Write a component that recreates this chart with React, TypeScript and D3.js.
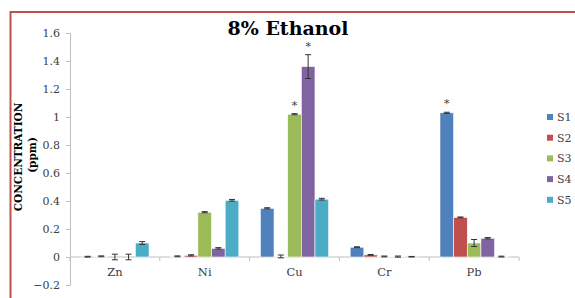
import { useEffect, useRef } from "react";
import * as d3 from "d3";

const metals = ["Zn", "Ni", "Cu", "Cr", "Pb"];
const series = ["S1", "S2", "S3", "S4", "S5"];
const colors = ["#4f81bd", "#c0504d", "#9bbb59", "#8064a2", "#4bacc6"];

// values per series, in metal order
const s1 = [0.002, 0.005, 0.348, 0.07, 1.03];
const s2 = [0.005, 0.012, 0.004, 0.015, 0.283];
const s3 = [0.0, 0.32, 1.02, 0.004, 0.1];
const s4 = [0.0, 0.062, 1.36, 0.003, 0.134];
const s5 = [0.1, 0.405, 0.413, 0.002, 0.003];

// error bars (+/-)
const e1 = [0.003, 0.003, 0.004, 0.003, 0.004];
const e2 = [0.003, 0.004, 0.01, 0.003, 0.003];
const e3 = [0.02, 0.004, 0.004, 0.003, 0.025];
const e4 = [0.02, 0.005, 0.085, 0.004, 0.005];
const e5 = [0.01, 0.006, 0.006, 0.002, 0.003];

const yTicks = [-0.2, 0, 0.2, 0.4, 0.6, 0.8, 1, 1.2, 1.4, 1.6];
// significance markers: [metal, series]
const stars: [string, string][] = [
  ["Cu", "S3"],
  ["Cu", "S4"],
  ["Pb", "S1"],
];

const W = 575;
const H = 298;
const margins = { top: 33, right: 56, bottom: 13, left: 70 };
const FONT = "DejaVu Serif";

export default function App() {
  const axesRef = useRef(null);

  const values = [s1, s2, s3, s4, s5];
  const errors = [e1, e2, e3, e4, e5];

  const yScale = d3
    .scaleLinear()
    .domain([-0.2, 1.6])
    .range([H - margins.bottom, margins.top]);

  const xScale = d3
    .scaleBand()
    .domain(metals)
    .range([margins.left, W - margins.right])
    .paddingInner(0.24)
    .paddingOuter(0.12);

  const inner = d3
    .scaleBand()
    .domain(series)
    .range([0, xScale.bandwidth()]);

  useEffect(() => {
    const g = d3.select(axesRef.current);
    g.selectAll("*").remove();

    const yAxis = g
      .append("g")
      .attr("transform", `translate(${margins.left},0)`)
      .call(
        d3
          .axisLeft(yScale)
          .tickValues(yTicks)
          .tickSize(4)
          .tickPadding(6)
          .tickFormat((d) => d3.format("")(+(+d).toFixed(1)))
      );
    yAxis.attr("font-family", FONT).attr("font-size", 11);
    yAxis.select(".domain").attr("stroke", "#bfbfbf");
    yAxis.selectAll(".tick line").attr("stroke", "#bfbfbf");
    yAxis.selectAll(".tick text").attr("fill", "#404040");

    // x axis at zero
    const y0 = yScale(0);
    const step = xScale.step();
    const left = margins.left;
    const right = W - margins.right;
    g.append("line")
      .attr("x1", left)
      .attr("x2", right)
      .attr("y1", y0)
      .attr("y2", y0)
      .attr("stroke", "#bfbfbf");
    d3.range(metals.length + 1).forEach((i) => {
      const x = left + i * step;
      g.append("line")
        .attr("x1", x)
        .attr("x2", x)
        .attr("y1", y0)
        .attr("y2", y0 + 4)
        .attr("stroke", "#bfbfbf");
    });
    metals.forEach((m) => {
      g.append("text")
        .attr("x", (xScale(m) || 0) + xScale.bandwidth() / 2)
        .attr("y", y0 + 19)
        .attr("text-anchor", "middle")
        .attr("font-family", FONT)
        .attr("font-size", 11.5)
        .attr("fill", "#404040")
        .text(m);
    });
  }, []);

  return (
    <svg
      width={W}
      height={H}
      fontFamily={FONT}
      style={{ position: "absolute", left: 0, top: 0, background: "#fff" }}
    >
      <rect x={0} y={0} width={W} height={H} fill="#fff" />
      {/* red frame */}
      <line x1={10.5} x2={W} y1={12} y2={12} stroke="#c0504d" strokeWidth={2} />
      <line x1={10.5} x2={10.5} y1={11} y2={H} stroke="#c0504d" strokeWidth={2} />

      <text x={288} y={35} textAnchor="middle" fontFamily={FONT} fontWeight="bold" fontSize={19}>
        8% Ethanol
      </text>

      <text
        transform={`translate(22,157) rotate(-90)`}
        textAnchor="middle"
        fontFamily={FONT}
        fontWeight="bold"
        fontSize={10.5}
      >
        CONCENTRATION
      </text>
      <text
        transform={`translate(36,155) rotate(-90)`}
        textAnchor="middle"
        fontFamily={FONT}
        fontWeight="bold"
        fontSize={10.5}
      >
        (ppm)
      </text>

      <g ref={axesRef} />

      {series.map((s, si) => (
        <g key={s}>
          {metals.map((m, mi) => {
            const v = values[si][mi];
            const e = errors[si][mi];
            const x = (xScale(m) || 0) + (inner(s) || 0);
            const bw = inner.bandwidth();
            const yv = yScale(v);
            const y0 = yScale(0);
            const cx = x + bw / 2;
            return (
              <g key={m}>
                <rect
                  x={x}
                  y={Math.min(yv, y0)}
                  width={bw}
                  height={Math.abs(y0 - yv)}
                  fill={colors[si]}
                  stroke="#fff"
                  strokeWidth={0.6}
                />
                <line x1={cx} x2={cx} y1={yScale(v + e)} y2={yScale(v - e)} stroke="#333" />
                <line x1={cx - 3} x2={cx + 3} y1={yScale(v + e)} y2={yScale(v + e)} stroke="#333" />
                <line x1={cx - 3} x2={cx + 3} y1={yScale(v - e)} y2={yScale(v - e)} stroke="#333" />
              </g>
            );
          })}
        </g>
      ))}

      {stars.map(([m, s]) => {
        const si = series.indexOf(s);
        const mi = metals.indexOf(m);
        const cx = (xScale(m) || 0) + (inner(s) || 0) + inner.bandwidth() / 2;
        const top = yScale(values[si][mi] + errors[si][mi]);
        return (
          <text key={m + s} x={cx} y={top - 5} textAnchor="middle" fontFamily={FONT} fontSize={11} fill="#404040">
            *
          </text>
        );
      })}

      {series.map((s, i) => (
        <g key={s} transform={`translate(547,${117 + i * 20.7})`}>
          <rect x={0} y={-3} width={6} height={6} fill={colors[i]} />
          <text x={10} y={4} fontFamily={FONT} fontSize={11} fill="#404040">
            {s}
          </text>
        </g>
      ))}
    </svg>
  );
}
